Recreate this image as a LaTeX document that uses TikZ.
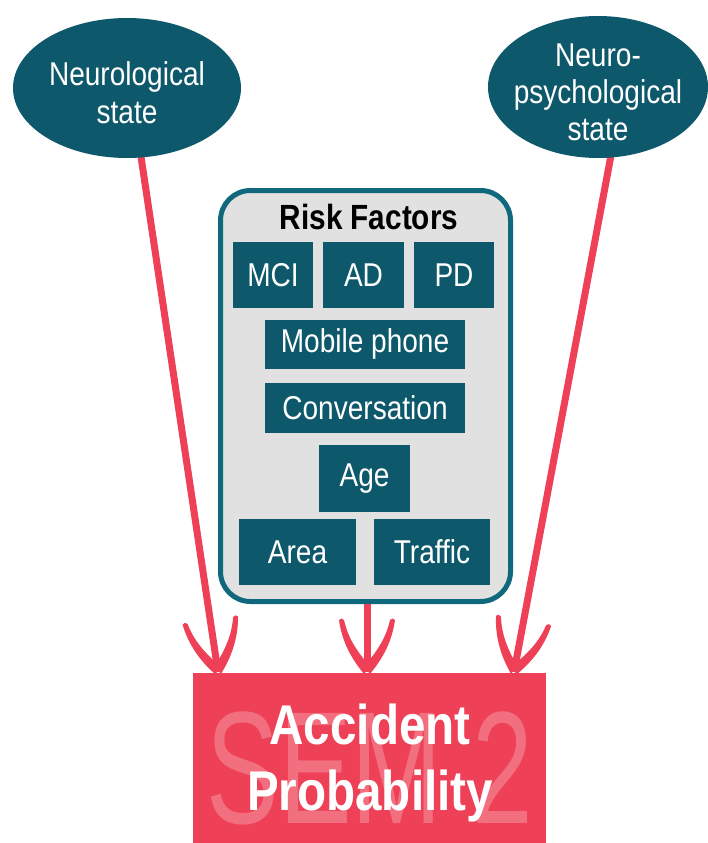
\documentclass[tikz,border=0pt]{standalone}
\usepackage{fontspec}
\setmainfont[FakeStretch=0.85]{Liberation Sans}
\usetikzlibrary{shapes.geometric}
\definecolor{teal1}{RGB}{13,88,107}
\definecolor{tealline}{RGB}{16,104,124}
\definecolor{panelgray}{RGB}{225,225,225}
\definecolor{accred}{RGB}{238,64,86}
\begin{document}
\begin{tikzpicture}[x=1pt,y=-1pt,
  state/.style={ellipse,fill=teal1,inner sep=0pt},
  statetext/.style={text=white,inner sep=0pt,align=center,
    font=\fontsize{33}{38}\selectfont},
  factor/.style={rectangle,fill=teal1,text=white,inner sep=0pt,
    font=\fontsize{33}{36}\selectfont},
  panel/.style={rectangle,rounded corners=30pt,draw=tealline,line width=5pt,
    fill=panelgray,inner sep=0pt},
  link/.style={draw=accred,line width=7pt},
  % two tapered barbs that turn upward towards their ends;
  % tip at the origin, shaft pointing up
  barbs/.pic={
    \fill[accred] (-2,3) .. controls (-15,-12) and (-25,-30) .. (-28,-52)
      .. controls (-27,-54) and (-24,-54) .. (-23,-52)
      .. controls (-19,-34) and (-10,-21) .. (0,-9) -- cycle;
    \fill[accred] (2,3) .. controls (15,-12) and (25,-30) .. (28,-52)
      .. controls (27,-54) and (24,-54) .. (23,-52)
      .. controls (19,-34) and (10,-21) .. (0,-9) -- cycle;
  },
]
\useasboundingbox (0,0) rectangle (708,843);

% outcome box with watermark
\fill[accred] (193,673) rectangle (546,843);
\node[text=white,opacity=0.25,inner sep=0pt,xscale=0.8,
  font=\fontsize{160}{160}\selectfont] (wm) at (370,768) {SEM 2};
\node[text=white,align=center,inner sep=0pt,
  font=\bfseries\fontsize{56}{66}\selectfont] (acc) at (370,763) {Accident\\Probability};

% endpoints of the links
\coordinate (lstart) at (140,150);
\coordinate (rstart) at (612,150);
\coordinate (lend) at (218,672);
\coordinate (mend) at (367,672);
\coordinate (rend) at (514,672);

% risk factor panel
\node[panel,minimum width=290pt,minimum height=411pt] (rf) at (365.5,396) {};
\node[font=\bfseries\fontsize{35}{38}\selectfont,inner sep=0pt] (rft) at (369,217) {Risk Factors};
\node[factor,minimum width=80pt,minimum height=66pt] (mci) at (273,275) {MCI};
\node[factor,minimum width=81pt,minimum height=66pt] (ad) at (363.5,275) {AD};
\node[factor,minimum width=80pt,minimum height=66pt] (pd) at (454,275) {PD};
\node[factor,minimum width=200pt,minimum height=49pt] (mob) at (365,344) {Mobile phone};
\node[factor,minimum width=200pt,minimum height=50pt] (conv) at (365,408) {Conversation};
\node[factor,minimum width=91pt,minimum height=67pt] (age) at (364.5,478.5) {Age};
\node[factor,minimum width=117pt,minimum height=66pt] (area) at (297.5,552) {Area};
\node[factor,minimum width=116pt,minimum height=66pt] (traf) at (432,552) {Traffic};

% links
\draw[link] (lstart) -- (lend);
\draw[link] (rstart) -- (rend);
\draw[link] (rf.south -| mend) -- (mend);
\pic[rotate=8.5] at (lend) {barbs};
\pic at (mend) {barbs};
\pic[rotate=-10.6] at (rend) {barbs};

% state ellipses
\node[state,minimum width=228pt,minimum height=140pt] (neuro) at (127,88) {};
\node[statetext] (neurot) at ([yshift=-5pt]neuro.center) {Neurological\\state};
\node[state,minimum width=220pt,minimum height=142pt] (npsy) at (598,87) {};
\node[statetext,font=\fontsize{33}{37}\selectfont] (npsyt) at ([yshift=-5pt]npsy.center) {Neuro-\\psychological\\state};
\end{tikzpicture}
\end{document}
